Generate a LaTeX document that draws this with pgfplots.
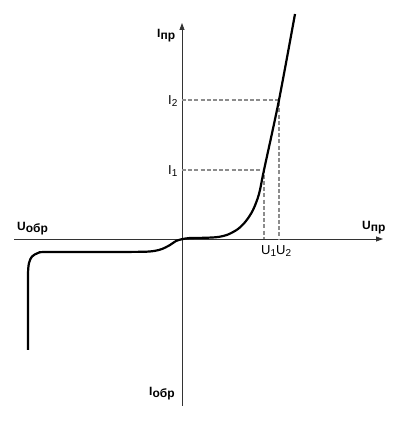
\documentclass[border=0pt]{standalone}
\usepackage{fontspec}
\setmainfont{Liberation Sans}
\usepackage{pgfplots}
\pgfplotsset{compat=1.18}
\usetikzlibrary{arrows.meta}
\newcommand{\mainlab}[2]{{\fontsize{12}{12}\selectfont\bfseries #1\raisebox{-2pt}{\fontsize{12}{12}\selectfont #2}}}
\newcommand{\ticklab}[2]{{\fontsize{13}{13}\selectfont #1\raisebox{-1.8pt}{\fontsize{10}{10}\selectfont #2}}}
\begin{document}
\begin{tikzpicture}
\begin{axis}[hide axis, scale only axis, width=400pt, height=421pt,
  xmin=-182, xmax=218, ymin=-182, ymax=239, clip=false]
\path (axis cs:-182,-182) rectangle (axis cs:218,239);
% axes
\draw[line width=0.8pt, color=black!80, -{Triangle[length=7pt,width=5pt]}] (axis cs:-168,0) -- (axis cs:201,0);
\draw[line width=0.8pt, color=black!80, -{Triangle[length=7pt,width=5pt]}] (axis cs:0,-167) -- (axis cs:0,216);
% dashed guides
\addplot[black!45, line width=1.1pt, dash pattern=on 4pt off 2.2pt] coordinates {(0,69) (82,69) (82,0)};
\addplot[black!45, line width=1.1pt, dash pattern=on 4pt off 2.2pt] coordinates {(0,139) (97,139) (97,0)};
% curve
\addplot[black, line width=2.2pt, smooth, tension=0.5] coordinates {
(-154,-111) (-154,-60) (-154,-35) (-153,-24) (-150,-17.5) (-144,-14) (-136,-13)
(-82,-13) (-40,-12.8) (-28,-12) (-20,-10) (-12,-6) (-6,-2) (0,-0.2) (8,1)
(23,1.2) (36,2) (46,4.5) (56,10) (64,18) (71,29) (77,45) (82,69)
(97,139) (113,225)};
% labels
\node[anchor=base west, inner sep=0pt] at (axis cs:-165,8) {\mainlab{U}{обр}};
\node[anchor=base west, inner sep=0pt] at (axis cs:180,9) {\mainlab{U}{пр}};
\node[anchor=base west, inner sep=0pt] at (axis cs:-25,201) {\mainlab{I}{пр}};
\node[anchor=base west, inner sep=0pt] at (axis cs:-33,-156) {\mainlab{I}{обр}};
\node[anchor=base west, inner sep=0pt] at (axis cs:-14,134) {\ticklab{I}{2}};
\node[anchor=base west, inner sep=0pt] at (axis cs:-14,64) {\ticklab{I}{1}};
\node[anchor=base west, inner sep=0pt] at (axis cs:79,-16) {\ticklab{U}{1}\ticklab{U}{2}};
\end{axis}
\end{tikzpicture}
\end{document}
